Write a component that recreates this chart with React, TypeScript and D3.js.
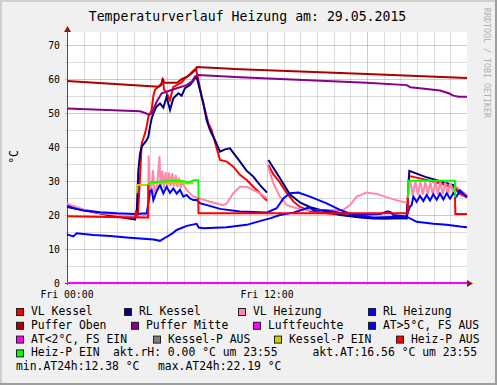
import React, { useRef, useEffect } from "react";
import * as d3 from "d3";

type Pt = [number, number | null];

// time in hours since Fri 00:00, value in °C
const vlKessel: Pt[] = [
  [0, 22.4], [1, 21.4], [2, 20.4], [3, 19.5], [4.08, 18.7], [4.18, 21.3], [4.25, 19.8], [4.35, 28],
  [4.48, 41], [4.58, 42.5], [4.68, 44], [4.78, 46], [4.88, 48.9], [5.08, 50.9], [5.18, 55], [5.28, 56.8],
  [5.48, 57.7], [5.68, 58.7], [5.74, 60.2], [5.82, 57], [5.98, 55.8], [6.18, 53.8], [6.38, 57.7],
  [6.58, 58.2], [6.88, 59], [7.08, 60.2], [7.38, 61.4], [7.58, 62.4], [7.74, 63.1], [7.88, 59.7],
  [8.08, 54.8], [8.28, 50.9], [8.48, 47], [8.68, 45], [8.9, 41], [9.18, 36.2], [9.58, 35.7],
  [9.98, 34.2], [10.38, 31.8], [10.78, 30.3], [11.18, 28.3], [11.58, 26.4], [12.0, 24.2], [12.04, null],
  [12.08, 34.7], [12.38, 32], [12.78, 29.5], [13.18, 26.5], [13.58, 24], [14.0, 22.3], [14.6, 21.2],
  [15.6, 20.5], [16.6, 20], [18, 19.2], [19, 18.9], [20.38, 19.1], [20.52, 31.5], [21.5, 30.4],
  [22.5, 29.2], [23.2, 28], [23.58, 26.2], [24, 25.2],
];

const rlKessel: Pt[] = [
  [0, 22.9], [1, 21.5], [2, 20.5], [3, 19.6], [4.08, 18.7], [4.18, 20.5], [4.28, 33], [4.38, 38],
  [4.48, 40.1], [4.78, 42], [4.88, 43], [4.98, 46], [5.08, 48.4], [5.18, 49.9], [5.38, 51.9],
  [5.58, 52.8], [5.78, 51.6], [5.98, 54.8], [6.18, 50.9], [6.38, 54.3], [6.68, 55.8], [6.88, 55.1],
  [7.08, 57.3], [7.38, 58.2], [7.68, 60.2], [7.78, 60.5], [7.98, 56.8], [8.18, 52.8], [8.38, 47.9],
  [8.58, 45], [8.88, 42], [9.18, 38.6], [9.48, 39.3], [9.78, 39.6], [10.38, 35.7], [10.78, 33],
  [11.18, 31.3], [11.58, 28.8], [12.0, 26.6], [12.04, null], [12.08, 36.2], [12.78, 30.8],
  [13.38, 26], [14.0, 23.6], [14.6, 22.3], [15.6, 21], [16.4, 20], [17.6, 19.3], [18.4, 19],
  [19.5, 19.1], [20.38, 19], [20.54, 33], [21.5, 31.2], [22.5, 29.8], [23.18, 28.8], [23.58, 26.9],
  [24, 25.6],
];

const vlHeizung: Pt[] = [
  [0, 23.3], [1, 21.6], [2, 20.6], [3, 20.0], [4.08, 19.5], [4.78, 20], [4.86, 22], [4.9, 37.5],
  [4.96, 26.5], [5.08, 28.5], [5.16, 33.2], [5.24, 27], [5.4, 28.5], [5.55, 37.3], [5.62, 28],
  [5.72, 33], [5.82, 28], [5.92, 32.6], [6.02, 28.2], [6.12, 32.5], [6.22, 28.5], [6.32, 32.3],
  [6.42, 28.4], [6.52, 31.8], [6.62, 28.2], [6.72, 31], [6.82, 28], [6.92, 29.5], [7.18, 27.4],
  [7.58, 25.4], [7.98, 24.9], [8.58, 23.9], [9.38, 22.9], [9.58, 23.4], [9.98, 26.4], [10.38, 28.3],
  [10.78, 28.3], [11.58, 26.4], [12.0, 24.9], [12.03, null], [12.05, 34.5], [12.38, 29.3],
  [12.78, 25.4], [13.18, 22.9], [13.78, 22], [14.58, 21.5], [15.58, 21.5], [16.58, 21.5],
  [16.98, 22.9], [17.38, 25.4], [17.98, 26.6], [18.58, 26.2], [19.58, 24.6], [20.38, 23.6],
  [20.46, 26], [20.6, 29.8], [20.75, 25.9], [20.9, 29.8], [21.05, 25.9], [21.2, 29.8], [21.35, 26],
  [21.5, 29.8], [21.65, 26], [21.8, 29.7], [21.95, 26], [22.1, 29.7], [22.25, 26.1], [22.4, 29.7],
  [22.55, 26.1], [22.7, 29.6], [22.85, 26.2], [23.0, 29.6], [23.15, 26.5], [23.3, 28.5],
  [23.58, 27.4], [24, 25.9],
];

const rlHeizung: Pt[] = [
  [0, 22.4], [1, 21.3], [2, 20.8], [3, 20.5], [4.08, 20.3], [4.78, 20.5], [4.88, 23.4], [4.98, 27],
  [5.08, 27.4], [5.18, 24.4], [5.38, 27], [5.58, 28.8], [5.78, 26.4], [5.98, 28.3], [6.18, 26.5],
  [6.38, 27.8], [6.58, 26.3], [6.78, 27.4], [6.98, 25.4], [7.18, 25.9], [7.38, 24.9], [7.58, 24.4],
  [7.78, 24.4], [8.0, 23.4], [8.4, 22.9], [9.18, 21.8], [10.38, 21], [11.98, 20.7], [12.58, 22],
  [12.98, 24.9], [13.38, 26.4], [13.88, 26.6], [14.58, 25.4], [15.58, 23.4], [16.38, 21.5],
  [17.18, 20], [18.38, 19.3], [19.98, 19.5], [20.38, 19.6], [20.58, 22.5], [20.68, 22.9],
  [20.78, 25.4], [20.98, 23.9], [21.18, 25.6], [21.38, 24.1], [21.58, 25.9], [21.78, 24.3],
  [21.98, 26.1], [22.18, 24.5], [22.38, 26.3], [22.58, 24.6], [22.78, 26.4], [22.98, 24.8],
  [23.18, 26.4], [23.38, 25.5], [23.58, 27.2], [24, 25.2],
];

const pufferOben: Pt[] = [
  [0, 59.4], [5.5, 57.7], [5.65, 58.2], [5.75, 59.9], [5.85, 58.9], [6.6, 58.9], [6.9, 60],
  [7.2, 60.6], [7.5, 61.8], [7.7, 62.6], [7.8, 63.5], [10.4, 62.9], [18, 61.5], [24, 60.3],
];

const pufferMitte: Pt[] = [
  [0, 51.3], [4.38, 50.5], [4.7, 50], [4.88, 49.6], [5.08, 49.8], [5.38, 53.3], [5.68, 55.8],
  [6.58, 57.3], [7.18, 58.2], [7.5, 59.3], [7.68, 60.7], [7.88, 61.2], [10.38, 60.5], [17.98, 58.9],
  [20.38, 58.2], [20.6, 57.6], [21.18, 57.3], [22.38, 56.6], [22.9, 55.8], [23.18, 55.1],
  [23.5, 54.8], [24, 54.8],
];

const luftfeuchte: Pt[] = [[0, 0], [24, 0]];

const aussen: Pt[] = [
  [0, 14.3], [0.38, 13.7], [0.58, 14.6], [1.58, 14.1], [2.6, 13.8], [3.58, 13.4], [4.58, 13.0],
  [5.2, 12.8], [5.58, 12.4], [5.98, 13.6], [6.3, 14.5], [6.58, 15.6], [7.18, 16.8], [7.78, 17.4],
  [7.9, 16.3], [8.18, 16.1], [9.58, 16.4], [10.78, 17.1], [11.78, 18.5], [12.18, 19], [12.78, 20],
  [13.58, 20.7], [14.38, 22.0], [14.58, 22.2], [14.78, 21.5], [15.58, 21.3], [16.38, 20.7],
  [17.58, 20], [18.8, 20.3], [19.2, 21], [19.4, 20.9], [19.58, 20], [20.38, 19.5], [20.98, 18],
  [21.98, 17.4], [22.78, 17.1], [23.58, 16.6], [24, 16.4],
];

const kesselPEin: Pt[] = [
  [4.18, 26.4], [4.22, 28.8], [4.88, 28.8], [4.95, 29.3], [7.0, 29.4], [7.2, 29.3], [7.6, 29.4],
];

const heizPAus: Pt[] = [
  [0, 19.6], [4.08, 19.3], [4.15, 21.3], [4.22, 19.3], [4.87, 19.3], [4.88, 29], [4.9, null],
  [7.88, 25], [7.89, 20.5], [20.45, 20.5], [20.46, 26], [20.47, null], [23.28, 25.4], [23.3, 20.3],
  [24, 20.3],
];

const heizPEin: Pt[] = [
  [4.88, 28.8], [5.0, 29.6], [5.5, 29.8], [6.2, 30.0], [6.6, 30.1], [7.0, 29.9], [7.3, 29.6],
  [7.6, 30.2], [7.88, 30.2], [7.89, 25], [7.9, null], [20.46, 25], [20.47, 30.1], [23.28, 30.1],
  [23.29, 25.4],
];

const yTicks = [0, 10, 20, 30, 40, 50, 60, 70];
const xLabels: [number, string][] = [[0, "Fri 00:00"], [12, "Fri 12:00"]];

const series: { data: Pt[]; color: string }[] = [
  { data: vlKessel, color: "#ff0000" },
  { data: rlKessel, color: "#000080" },
  { data: vlHeizung, color: "#ff88aa" },
  { data: rlHeizung, color: "#0000ff" },
  { data: pufferOben, color: "#aa0000" },
  { data: pufferMitte, color: "#880088" },
  { data: luftfeuchte, color: "#ff00ff" },
  { data: aussen, color: "#0000ff" },
  { data: kesselPEin, color: "#cccc00" },
  { data: heizPAus, color: "#ff0000" },
  { data: heizPEin, color: "#00ff00" },
];

// legend rows: [label, color | null, x]
const legendRows: [string, string | null, number][][] = [
  [["VL Kessel", "#ff0000", 16], ["RL Kessel", "#000080", 124], ["VL Heizung", "#ff88aa", 238], ["RL Heizung", "#0000ff", 368]],
  [["Puffer Oben", "#aa0000", 16], ["Puffer Mitte", "#880088", 131], ["Luftfeuchte", "#ff00ff", 253], ["AT>5°C, FS AUS", "#0000ff", 368]],
  [["AT<2°C, FS EIN", "#ff00ff", 16], ["Kessel-P AUS", "#808080", 153], ["Kessel-P EIN", "#cccc00", 274], ["Heiz-P AUS", "#ff0000", 396]],
  [["Heiz-P EIN", "#00ff00", 16], ["akt.rH: 0.00 °C um 23:55", null, 113], ["akt.AT:16.56 °C um 23:55", null, 312.5]],
  [["min.AT24h:12.38 °C", null, 16], ["max.AT24h:22.19 °C", null, 158]],
];

const W = 497;
const H = 385;
const mono = "'DejaVu Sans Mono', monospace";

const App = () => {
  const svgRef = useRef<SVGSVGElement>(null);

  useEffect(() => {
    const svg = d3.select(svgRef.current);
    svg.selectAll("*").remove();

    const left = 67, right = 467, top = 32, bottom = 283;
    const x = d3.scaleLinear().domain([0, 24]).range([left, right]);
    const y = d3.scaleLinear().domain([0, (bottom - top) / 3.4]).range([bottom, top]);

    // frame
    svg.append("rect").attr("width", W).attr("height", H).attr("fill", "#f0f0f0");
    svg.append("path").attr("d", `M0,${H} V0 H${W}`).attr("fill", "none").attr("stroke", "#cfcfcf").attr("stroke-width", 4);
    svg.append("path").attr("d", `M0,${H} H${W} V0`).attr("fill", "none").attr("stroke", "#9e9e9e").attr("stroke-width", 4);

    svg.append("rect").attr("x", left).attr("y", top).attr("width", right - left).attr("height", bottom - top).attr("fill", "#fff");

    // grid
    const grid = svg.append("g").attr("shape-rendering", "crispEdges");
    d3.range(1, 24).forEach((h) => {
      const major = h % 6 === 0;
      grid.append("line")
        .attr("x1", Math.round(x(h)) + 0.5).attr("x2", Math.round(x(h)) + 0.5)
        .attr("y1", top).attr("y2", bottom + 2)
        .attr("stroke", major ? "rgba(255,0,0,0.28)" : "rgba(170,170,170,0.4)");
    });
    d3.range(5, 74, 5).forEach((v) => {
      const major = v % 10 === 0;
      grid.append("line")
        .attr("x1", left - 2).attr("x2", right)
        .attr("y1", Math.round(y(v)) + 0.5).attr("y2", Math.round(y(v)) + 0.5)
        .attr("stroke", major ? "rgba(255,0,0,0.28)" : "rgba(170,170,170,0.4)");
    });

    // axes
    svg.append("line").attr("x1", left + 0.5).attr("x2", left + 0.5).attr("y1", bottom + 2).attr("y2", top - 3)
      .attr("stroke", "#505050").attr("stroke-width", 1);
    svg.append("line").attr("x1", left - 2).attr("x2", right + 3).attr("y1", bottom + 0.5).attr("y2", bottom + 0.5)
      .attr("stroke", "#505050").attr("stroke-width", 1);
    svg.append("path").attr("d", `M${left + 0.5},${top - 6} l-3.5,6 h7 z`).attr("fill", "#8b1a1a");
    svg.append("path").attr("d", `M${right + 6},${bottom + 0.5} l-6,-3.5 v7 z`).attr("fill", "#8b1a1a");

    // series
    const line = d3.line<Pt>()
      .defined((d) => d[1] !== null)
      .x((d) => x(d[0]))
      .y((d) => y(d[1] as number));
    series.forEach((s) => {
      svg.append("path")
        .attr("d", line(s.data))
        .attr("fill", "none")
        .attr("stroke", s.color)
        .attr("stroke-width", 2);
    });

    // tick labels
    yTicks.forEach((v) => {
      svg.append("text").attr("x", 60).attr("y", y(v)).attr("dy", "0.36em")
        .attr("text-anchor", "end").attr("font-family", mono).attr("font-size", 9.8).attr("fill", "#000").text(v);
    });
    xLabels.forEach(([t, label]) => {
      svg.append("text").attr("x", x(t)).attr("y", 298)
        .attr("text-anchor", "middle").attr("font-family", mono).attr("font-size", 9.8).attr("fill", "#000").text(label);
    });

    // title, unit, watermark
    svg.append("text").attr("x", 247.5).attr("y", 21).attr("text-anchor", "middle")
      .attr("font-family", mono).attr("font-size", 13.2).attr("fill", "#000")
      .text("Temperaturverlauf Heizung am: 29.05.2015");
    svg.append("text").attr("transform", "translate(18,157) rotate(-90)").attr("text-anchor", "middle")
      .attr("font-family", mono).attr("font-size", 11.4).attr("fill", "#000").text("°C");
    svg.append("text").attr("transform", "translate(483.5,8) rotate(90)")
      .attr("font-family", mono).attr("font-size", 8.3).attr("fill", "#b0b0b0").text("RRDTOOL / TOBI OETIKER");

    // legend
    legendRows.forEach((row, i) => {
      const base = 315 + i * 13.8;
      row.forEach(([label, color, lx]) => {
        let tx = lx;
        if (color) {
          svg.append("rect").attr("x", lx + 0.5).attr("y", base - 6.5).attr("width", 7).attr("height", 7)
            .attr("fill", color).attr("stroke", "#202020").attr("stroke-width", 1);
          tx = lx + 15;
        }
        svg.append("text").attr("x", tx).attr("y", base).attr("font-family", mono)
          .attr("font-size", 11.4).attr("fill", "#000").attr("xml:space", "preserve").text(label);
      });
    });
  }, []);

  return (
    <svg ref={svgRef} width={W} height={H} style={{ position: "absolute", left: 0, top: 0 }} />
  );
};

export default App;
